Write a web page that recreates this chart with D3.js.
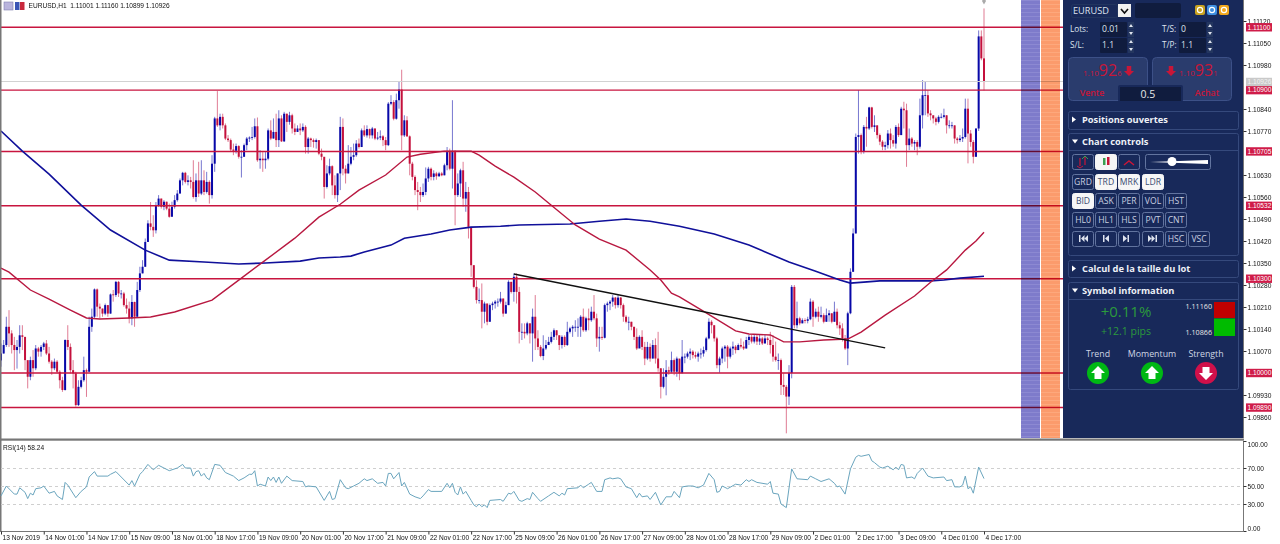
<!DOCTYPE html>
<html>
<head>
<meta charset="utf-8">
<title>EURUSD H1</title>
<script src="https://cdn.jsdelivr.net/npm/d3@7/dist/d3.min.js"></script>
<style>
html,body{margin:0;padding:0;background:#fff;overflow:hidden}
svg{display:block}
.chart text{font-family:"Liberation Sans",sans-serif;font-size:6.6px;fill:#111}
.panel text{font-family:"Open Sans",sans-serif}
</style>
</head>
<body>
<svg id="c" width="1280" height="544"></svg>
<script>
// Prices are in points: 10926 reads as 1.10926.
const closes = [
10062,10089,10147,10126,10089,10073,10083,10120,10115,10041,
9988,10041,10015,10078,10068,10083,10094,10062,10036,10015,
10036,10004,9977,9946,10105,10083,10009,9999,9898,9956,
9977,10009,10004,10147,10179,10266,10211,10205,10189,10216,
10189,10250,10248,10290,10253,10253,10216,10205,10174,10226,
10179,10264,10317,10338,10417,10476,10465,10454,10534,10555,
10529,10545,10523,10497,10529,10550,10571,10613,10637,10608,
10613,10608,10560,10613,10571,10613,10576,10608,10566,10666,
10810,10788,10815,10788,10746,10741,10711,10707,10722,10688,
10688,10725,10746,10749,10751,10785,10677,10682,10677,10682,
10772,10746,10767,10741,10810,10737,10825,10799,10820,10778,
10767,10778,10772,10783,10719,10746,10741,10735,10741,10698,
10688,10592,10635,10658,10597,10566,10635,10783,10650,10635,
10666,10688,10693,10730,10719,10772,10756,10776,10756,10778,
10746,10749,10753,10741,10725,10857,10862,10809,10868,10902,
10756,10804,10753,10666,10624,10582,10576,10566,10576,10619,
10650,10624,10635,10626,10635,10629,10661,10703,10650,10703,
10566,10603,10645,10555,10576,10465,10343,10274,10232,10232,
10195,10221,10163,10216,10221,10227,10227,10237,10189,10216,
10290,10258,10306,10258,10131,10131,10126,10158,10126,10179,
10110,10083,10054,10078,10089,10099,10115,10136,10120,10089,
10115,10089,10131,10142,10147,10147,10147,10179,10136,10174,
10168,10195,10174,10110,10115,10112,10216,10221,10227,10240,
10216,10240,10216,10179,10163,10163,10147,10115,10078,10115,
10083,10046,10083,10046,10089,10046,10015,9956,9988,10009,
10004,10041,10004,10046,9999,10052,10052,10062,10068,10057,
10052,10062,10062,10073,10110,10163,10152,10110,10025,10046,
10078,10084,10052,10078,10084,10073,10089,10084,10078,10105,
10115,10100,10115,10100,10110,10094,10110,10105,10089,10052,
10041,10041,9962,9956,9925,10000,10274,10152,10174,10158,
10168,10166,10171,10227,10179,10195,10179,10184,10163,10184,
10190,10163,10195,10152,10142,10110,10078,10190,10322,10444,
10751,10757,10704,10783,10778,10845,10783,10788,10757,10736,
10720,10725,10762,10741,10730,10783,10757,10841,10836,10725,
10746,10730,10735,10720,10820,10884,10884,10826,10820,10810,
10799,10815,10815,10820,10788,10788,10788,10746,10741,10746,
10751,10841,10762,10735,10688,10778,11071,11001,10926];

const highs = [
10094,10105,10179,10200,10136,10115,10105,10152,10152,10094,
10036,10052,10073,10089,10083,10089,10099,10105,10083,10041,
10046,10041,10009,9988,10107,10152,10094,10041,10004,9977,
9988,10052,10014,10179,10205,10269,10269,10221,10205,10221,
10216,10253,10264,10293,10293,10264,10258,10237,10227,10248,
10227,10290,10338,10359,10428,10486,10544,10502,10544,10566,
10555,10550,10545,10539,10545,10566,10582,10619,10640,10640,
10629,10624,10677,10635,10672,10677,10645,10640,10613,10693,
10815,10897,10825,10825,10794,10757,10746,10730,10730,10725,
10709,10730,10751,10753,10783,10810,10813,10709,10703,10703,
10778,10804,10810,10825,10836,10820,10831,10825,10831,10825,
10794,10788,10794,10794,10788,10751,10749,10746,10746,10741,
10714,10682,10661,10682,10661,10629,10635,10815,10810,10661,
10725,10719,10730,10741,10746,10778,10788,10788,10778,10783,
10778,10767,10772,10757,10751,10862,10884,10868,10889,10926,
10965,10820,10817,10756,10672,10629,10608,10592,10603,10654,
10656,10654,10645,10640,10640,10640,10666,10719,10714,10868,
10709,10635,10650,10672,10608,10592,10460,10343,10295,10269,
10285,10227,10221,10221,10227,10232,10237,10258,10237,10227,
10295,10290,10317,10317,10274,10158,10158,10163,10158,10205,
10248,10136,10089,10120,10105,10115,10131,10142,10136,10120,
10120,10120,10163,10147,10152,10168,10174,10184,10205,10179,
10205,10211,10248,10189,10147,10147,10221,10227,10232,10248,
10242,10248,10242,10221,10184,10179,10163,10147,10142,10120,
10136,10099,10099,10094,10105,10110,10131,10015,10015,10041,
10020,10068,10046,10052,10015,10105,10062,10068,10078,10073,
10068,10068,10078,10084,10115,10174,10168,10152,10115,10052,
10084,10089,10089,10084,10100,10089,10094,10110,10100,10115,
10121,10121,10123,10121,10121,10115,10121,10115,10131,10121,
10100,10062,10046,9999,9962,10025,10280,10280,10227,10179,
10174,10174,10179,10237,10232,10205,10211,10211,10190,10205,
10200,10190,10227,10205,10163,10158,10121,10195,10333,10460,
10762,10900,10762,10789,10815,10847,10847,10820,10788,10762,
10741,10736,10773,10778,10757,10789,10794,10847,10863,10857,
10778,10751,10741,10741,10873,10932,10926,10900,10836,10820,
10815,10820,10826,10841,10820,10804,10799,10788,10751,10757,
10778,10873,10873,10773,10741,10778,11090,11090,11160];

const lows = [
10020,10062,10083,10083,10062,10009,10014,10062,10073,10009,
9951,9977,9988,10009,10052,10052,10073,10057,10030,9994,
10009,9999,9951,9940,9944,10073,9999,9951,9893,9895,
9951,9972,9924,10004,10131,10174,10179,10174,10179,10184,
10179,10189,10227,10242,10242,10237,10211,10189,10158,10152,
10147,10179,10258,10317,10338,10417,10454,10433,10444,10529,
10523,10518,10518,10494,10505,10523,10545,10571,10597,10603,
10597,10587,10555,10545,10560,10566,10566,10571,10539,10555,
10640,10783,10772,10778,10741,10735,10703,10693,10698,10682,
10622,10688,10709,10735,10741,10746,10672,10650,10640,10650,
10677,10741,10746,10719,10719,10735,10735,10767,10790,10762,
10757,10767,10757,10767,10698,10698,10719,10717,10714,10693,
10677,10555,10587,10629,10566,10555,10544,10582,10629,10603,
10635,10661,10677,10688,10714,10719,10751,10749,10746,10746,
10741,10741,10741,10722,10709,10722,10852,10804,10806,10841,
10709,10751,10751,10629,10613,10566,10518,10544,10560,10566,
10608,10613,10613,10615,10624,10626,10629,10645,10645,10587,
10470,10560,10560,10529,10513,10428,10306,10269,10221,10221,
10142,10158,10152,10163,10200,10205,10211,10221,10179,10189,
10216,10253,10227,10221,10094,10105,10110,10120,10094,10036,
10073,10073,10050,10041,10073,10089,10094,10105,10105,10073,
10078,10083,10086,10126,10115,10131,10115,10115,10131,10131,
10136,10163,10168,10083,10068,10105,10110,10195,10200,10211,
10205,10208,10205,10163,10158,10136,10136,10105,10073,10083,
10073,10025,10041,10036,10046,10030,10004,9919,9951,9929,
9994,9999,9993,9988,9977,10004,10031,10046,10041,10046,
10046,10036,10046,10052,10068,10107,10126,10100,10015,10001,
10031,10036,10015,10046,10057,10062,10073,10078,10073,10078,
10089,10094,10094,10089,10089,10089,10094,10089,10062,10036,
10036,10010,9930,9930,9808,9898,9983,10142,10142,10152,
10158,10158,10158,10168,10147,10174,10163,10174,10158,10163,
10163,10158,10163,10142,10121,10100,10073,10025,10187,10322,
10444,10698,10696,10698,10720,10773,10778,10767,10746,10725,
10709,10709,10714,10714,10720,10714,10751,10757,10778,10656,
10709,10720,10709,10693,10714,10778,10820,10815,10804,10794,
10788,10794,10810,10810,10762,10778,10778,10730,10730,10735,
10735,10746,10667,10720,10667,10688,10770,10995,10899];

// Slow moving average, sampled at the listed bars.
const slowMaBars = [0,8,18,30,41,54,63,76,89,99,112,119,127,131,136,146,151,161,168,176,187,194,213,224,234,243,254,267,280,295,305,314,318,323,329,348,353,359,368];
const slowMaValues = [10770,10706,10633,10534,10455,10391,10359,10353,10347,10350,10356,10366,10369,10372,10385,10407,10429,10442,10455,10464,10467,10471,10474,10483,10490,10483,10467,10442,10407,10353,10324,10296,10286,10289,10293,10293,10296,10302,10308];

// Fast moving average, sampled at the listed bars.
const fastMaBars = [0,3,11,18,26,32,37,48,56,65,79,90,99,110,119,127,134,144,152,157,166,176,179,185,192,200,206,215,224,234,243,247,251,254,264,275,280,288,293,299,308,317,322,331,342,348,354,361,365,368];
const fastMaValues = [10334,10321,10264,10235,10200,10175,10172,10175,10178,10194,10232,10302,10359,10429,10496,10537,10582,10630,10687,10696,10706,10706,10693,10658,10623,10576,10534,10471,10426,10391,10328,10296,10254,10242,10191,10134,10124,10121,10099,10099,10105,10108,10130,10184,10245,10289,10328,10391,10420,10448];

// RSI(14) readings at the listed bars.
const rsiBars = [0,2,5,6,7,9,10,11,12,13,15,16,18,20,21,23,24,25,28,30,32,33,35,36,40,41,43,45,48,49,50,52,53,55,57,59,61,63,66,68,69,71,72,73,74,75,76,77,78,80,82,84,87,89,91,93,94,95,96,97,99,100,101,102,103,104,105,107,109,113,114,115,118,121,123,124,125,127,129,130,132,134,136,137,139,141,143,144,145,146,147,149,150,151,153,155,157,158,160,161,165,167,168,169,170,171,172,173,174,176,177,178,179,180,181,182,183,187,188,190,191,192,194,195,197,198,199,201,202,205,207,209,210,211,212,216,217,218,220,221,223,225,226,228,229,231,232,234,236,238,239,240,242,243,245,247,249,251,252,254,255,257,259,261,263,265,267,268,269,270,272,275,277,279,280,281,283,287,288,289,291,292,294,296,298,302,303,305,307,310,312,313,314,316,318,320,321,322,325,326,327,329,330,332,334,335,336,337,338,339,341,342,343,345,347,349,353,354,356,357,359,360,361,362,363,364,366,368];
const rsiValues = [39,50,41,41,48,43,36,42,40,47,48,50,42,44,39,35,54,51,37,44,49,60,66,61,61,63,66,60,51,56,50,63,66,74,68,73,70,67,70,74,70,70,61,66,67,61,64,59,57,74,73,65,61,56,59,63,63,67,50,52,50,60,56,60,54,60,53,61,56,55,49,50,49,34,44,35,36,57,48,47,50,53,58,56,58,53,54,50,64,64,58,65,50,54,41,38,36,39,46,44,44,53,48,53,43,40,49,41,44,34,29,27,30,27,29,26,34,35,33,42,41,44,34,33,36,35,43,36,33,39,43,39,42,40,47,48,51,48,52,54,44,44,57,59,58,59,58,49,47,37,42,38,39,35,43,29,38,38,44,37,49,50,50,48,51,64,57,43,44,50,47,52,51,57,55,57,54,52,55,42,41,30,26,69,58,57,61,58,55,58,53,49,50,41,69,82,84,83,85,78,76,71,70,72,68,71,68,74,73,59,60,58,64,70,61,59,60,56,57,49,49,51,61,47,49,42,71,58.24];

// Horizontal support and resistance levels.
const levels = [11100,10900,10705,10532,10300,10000,9890];
const bidLevel = 10926;
const priceTicks = [11120,11050,10980,10840,10770,10630,10560,10490,10420,10350,10280,10210,10140,10070,9930,9860];

// Hand-drawn trend line, as two bar/price anchors.
const trendBars = [192,331];
const trendValues = [10315,10080];

const rsiTicks = [100,70,50,30,0];
const rsiGuides = [70,50,30];

const timeTicks = [0,16,32,48,64,80,96,112,128,144,160,176,192,208,224,240,256,272,288,304,320,336,352,368];
const timeLabels = ["13 Nov 2019","14 Nov 01:00","14 Nov 17:00","15 Nov 09:00","18 Nov 01:00","18 Nov 17:00","19 Nov 09:00","20 Nov 01:00","20 Nov 17:00","21 Nov 09:00","22 Nov 01:00","22 Nov 17:00","25 Nov 09:00","26 Nov 01:00","26 Nov 17:00","27 Nov 09:00","28 Nov 01:00","28 Nov 17:00","29 Nov 09:00","2 Dec 01:00","2 Dec 17:00","3 Dec 09:00","4 Dec 01:00","4 Dec 17:00"];

const BLUE = "#0808a8", RED = "#c4103c", LEVEL = "#c8153f";
const fmt = v => (1 + v / 100000).toFixed(5);

const svg = d3.select("#c");
const chart = svg.append("g").attr("class", "chart");

const x = d3.scaleLinear().domain([0, 368]).range([1, 984]);
const y = d3.scaleLinear().domain([9860, 11120]).range([417, 21]);
const yRsi = d3.scaleLinear().domain([0, 100]).range([531, 441]);

const bars = closes.map((c, i) => ({
  i, c, h: highs[i], l: lows[i], o: i ? closes[i - 1] : 10040
}));

// Wicks first, bodies over them.
const colour = d => d.c >= d.o ? BLUE : RED;
chart.append("g").selectAll("line").data(bars).join("line")
  .attr("x1", d => x(d.i)).attr("x2", d => x(d.i))
  .attr("y1", d => y(d.h)).attr("y2", d => y(d.l))
  .attr("stroke", colour).attr("stroke-width", 1).attr("stroke-opacity", 0.55);
chart.append("g").selectAll("rect").data(bars).join("rect")
  .attr("x", d => x(d.i) - 1)
  .attr("width", 2)
  .attr("y", d => Math.min(y(d.o), y(d.c)))
  .attr("height", d => Math.max(0.8, Math.abs(y(d.o) - y(d.c))))
  .attr("fill", colour);

const zip = (a, b) => a.map((v, i) => [v, b[i]]);
const priceLine = d3.line().x(d => x(d[0])).y(d => y(d[1]));

// Current bid and fixed levels run under the side panel.
chart.append("line").attr("x1", 0).attr("x2", 1063)
  .attr("y1", y(bidLevel)).attr("y2", y(bidLevel))
  .attr("stroke", "#d2d2d2").attr("stroke-width", 1).attr("shape-rendering", "crispEdges");
chart.append("g").selectAll("line").data(levels).join("line")
  .attr("x1", 0).attr("x2", 1063)
  .attr("y1", d => y(d)).attr("y2", d => y(d))
  .attr("stroke", LEVEL).attr("stroke-width", 1.4);

chart.append("path").attr("d", priceLine(zip(slowMaBars, slowMaValues)))
  .attr("fill", "none").attr("stroke", "#10109a").attr("stroke-width", 1.6);
chart.append("path").attr("d", priceLine(zip(fastMaBars, fastMaValues)))
  .attr("fill", "none").attr("stroke", "#b81840").attr("stroke-width", 1.4);
chart.append("path").attr("d", priceLine(zip(trendBars, trendValues)))
  .attr("fill", "none").attr("stroke", "#111").attr("stroke-width", 1.4);

// Marker above the last bar.
chart.append("path")
  .attr("d", d3.symbol(d3.symbolDiamond, 14)())
  .attr("transform", `translate(${x(368)},1)`).attr("fill", "#aaa");

// Session bands, striped, multiplied over the levels.
const defs = svg.append("defs");
[["stripeA", "#7e7bcb", "#8c89d2"], ["stripeB", "#fb9b6c", "#fda87c"]].forEach(([id, a, b]) => {
  const p = defs.append("pattern").attr("id", id).attr("patternUnits", "userSpaceOnUse")
    .attr("width", 4).attr("height", 4);
  p.append("rect").attr("width", 4).attr("height", 4).attr("fill", a);
  p.append("rect").attr("width", 4).attr("height", 1).attr("fill", b);
});
chart.append("rect").attr("x", 1021).attr("y", 0).attr("width", 19).attr("height", 438)
  .attr("fill", "url(#stripeA)").style("mix-blend-mode", "multiply");
chart.append("rect").attr("x", 1041).attr("y", 0).attr("width", 19).attr("height", 438)
  .attr("fill", "url(#stripeB)").style("mix-blend-mode", "multiply");

// Window frame lines.
chart.append("rect").attr("x", 0).attr("y", 0).attr("width", 1.5).attr("height", 531).attr("fill", "#777");
chart.append("rect").attr("x", 0).attr("y", 438.5).attr("width", 1244).attr("height", 2.2).attr("fill", "#777");

// Price axis.
const priceAxis = d3.axisRight(y).tickValues(priceTicks).tickFormat(fmt).tickSize(3).tickPadding(1);
const gp = chart.append("g").attr("transform", "translate(1243.5,0)").call(priceAxis);
gp.select(".domain").attr("stroke", "#777").attr("d", "M0,0V438");
gp.selectAll(".tick line").attr("stroke", "#333");

// Price badges for the levels and the bid.
const badge = chart.append("g").selectAll("g").data(levels.concat([bidLevel])).join("g")
  .attr("transform", d => `translate(1246,${y(d)})`);
badge.append("rect").attr("x", 0).attr("y", -4.2).attr("width", 26).attr("height", 8.4)
  .attr("fill", d => d === bidLevel ? "#c9c9c9" : "#cf1c49");
badge.append("text").attr("x", 1.5).attr("dy", "0.34em").text(fmt)
  .style("fill", d => d === bidLevel ? "#f3f3f3" : "#fff");

// Header text.
chart.append("rect").attr("x", 4).attr("y", 2).attr("width", 9).attr("height", 8).attr("fill", "#b9b4dd").attr("stroke", "#7f7fb0").attr("stroke-width", 0.6);
chart.append("rect").attr("x", 15).attr("y", 2).attr("width", 4.5).attr("height", 8).attr("fill", "#3a55b5");
chart.append("rect").attr("x", 20).attr("y", 2).attr("width", 4.5).attr("height", 8).attr("fill", "#c8283c");
chart.append("text").attr("x", 28.5).attr("y", 8.3)
  .text("EURUSD,H1  1.11001 1.11160 1.10899 1.10926").style("white-space", "pre");

// RSI pane.
chart.append("g").selectAll("line").data(rsiGuides).join("line")
  .attr("x1", 1).attr("x2", 1243)
  .attr("y1", d => yRsi(d)).attr("y2", d => yRsi(d))
  .attr("stroke", "#cfcfcf").attr("stroke-dasharray", "3,3").attr("shape-rendering", "crispEdges");
chart.append("path")
  .attr("d", d3.line().x(d => x(d[0])).y(d => yRsi(d[1]))(zip(rsiBars, rsiValues)))
  .attr("fill", "none").attr("stroke", "#6aa5be").attr("stroke-width", 1);
chart.append("text").attr("x", 3).attr("y", 449.5).text("RSI(14) 58.24");

const rsiAxis = d3.axisRight(yRsi).tickValues(rsiTicks).tickFormat(d => d.toFixed(2)).tickSize(3).tickPadding(1);
const gr = chart.append("g").attr("transform", "translate(1243.5,0)").call(rsiAxis);
gr.select(".domain").attr("stroke", "#777").attr("d", "M0,441V531");
gr.selectAll(".tick line").attr("stroke", "#333");
gr.selectAll(".tick text").attr("dy", d => d === 100 ? "5.3px" : d === 0 ? "-0.7px" : "2.3px");

// Time axis.
const timeAxis = d3.axisBottom(x).tickValues(timeTicks).tickFormat((d, i) => timeLabels[i]).tickSize(3).tickPadding(0);
const gt = chart.append("g").attr("transform", "translate(0,531.5)").call(timeAxis);
gt.select(".domain").attr("stroke", "#777").attr("d", "M0,0H1244");
gt.selectAll(".tick line").attr("stroke", "#333");
gt.selectAll(".tick text").attr("text-anchor", "start").attr("dx", "1px").attr("dy", "5.6px");

// Side panel.
const panel = svg.append("g").attr("class", "panel");
const NAVY = "#18295a", EDGE = "#35497c", DARK = "#101c3e", INK = "#dfe4ef", CRIM = "#c81638", GREEN = "#2b9a3c";
panel.append("rect").attr("x", 1063).attr("y", 0).attr("width", 180).attr("height", 438).attr("fill", NAVY);

const box = (x0, y0, w, h, o = {}) => panel.append("rect")
  .attr("x", x0 + .5).attr("y", y0 + .5).attr("width", w).attr("height", h).attr("rx", o.rx ?? 2)
  .attr("fill", o.fill ?? "none").attr("stroke", o.stroke ?? EDGE);
const label = (x0, y0, s, o = {}) => panel.append("text").attr("x", x0).attr("y", y0)
  .attr("text-anchor", o.anchor ?? "start").attr("dy", "0.35em")
  .attr("font-size", o.size ?? 8.5).attr("font-weight", o.weight ?? 400)
  .attr("fill", o.fill ?? INK).text(s);
const glyph = (d, fill) => panel.append("path").attr("d", d).attr("fill", fill);

// Symbol picker.
box(1071, 4, 46, 13, { stroke: "#22355f" });
label(1073, 11, "EURUSD", { size: 9.2 });
panel.append("rect").attr("x", 1118).attr("y", 4).attr("width", 13).attr("height", 13).attr("fill", "#f2f2f2");
panel.append("path").attr("d", "M1121,9l3.5,4l3.5,-4").attr("fill", "none").attr("stroke", "#111").attr("stroke-width", 1.6);
panel.append("rect").attr("x", 1135).attr("y", 3).attr("width", 46).attr("height", 15).attr("rx", 2).attr("fill", DARK);
[[1195, "#c9a21f"], [1207, "#3f8fe0"], [1219, "#f2a81d"]].forEach(([px, col]) => {
  panel.append("rect").attr("x", px).attr("y", 5).attr("width", 10).attr("height", 10).attr("rx", 2).attr("fill", col);
  panel.append("circle").attr("cx", px + 5).attr("cy", 10).attr("r", 2.6).attr("fill", "none").attr("stroke", "#fff").attr("stroke-width", 1.2);
});

// Order inputs.
const orderFields = [
  [1070, 29, "Lots:", 1100, "0.01"], [1162, 29, "T/S:", 1179, "0"],
  [1070, 45, "S/L:", 1100, "1.1"], [1162, 45, "T/P:", 1179, "1.1"]
];
orderFields.forEach(([lx, ly, name, ix, val]) => {
  label(lx, ly, name, { size: 8.2 });
  panel.append("rect").attr("x", ix).attr("y", ly - 7).attr("width", 27).attr("height", 15).attr("rx", 1).attr("fill", DARK);
  label(ix + 2, ly, val, { size: 8.6 });
  panel.append("rect").attr("x", ix + 28).attr("y", ly - 7).attr("width", 6).attr("height", 7).attr("fill", "#24365f");
  panel.append("rect").attr("x", ix + 28).attr("y", ly + 1).attr("width", 6).attr("height", 7).attr("fill", "#24365f");
  glyph(`M${ix + 29},${ly - 2}l2,-3l2,3z`, "#dfe4ef");
  glyph(`M${ix + 29},${ly + 3}l2,3l2,-3z`, "#dfe4ef");
});

// Sell and buy tiles.
box(1068, 57, 79, 43, { rx: 4, fill: "#2a3c6d", stroke: "#3c5087" });
box(1152, 57, 79, 43, { rx: 4, fill: "#2a3c6d", stroke: "#3c5087" });
panel.append("rect").attr("x", 1118).attr("y", 85).attr("width", 65).attr("height", 17).attr("rx", 2).attr("fill", NAVY);
panel.append("rect").attr("x", 1120).attr("y", 87).attr("width", 61).attr("height", 14).attr("fill", DARK);
label(1148, 94.5, "0.5", { anchor: "middle", size: 10.5, fill: "#e8e8e8" });
const quote = (x0, a, b, c) => {
  const t = panel.append("text").attr("x", x0).attr("y", 76).attr("fill", CRIM);
  t.append("tspan").attr("font-size", 8).text(a);
  t.append("tspan").attr("font-size", 16).text(b);
  t.append("tspan").attr("font-size", 7.5).text(c);
};
quote(1083, "1.10", "92", "6");
quote(1179, "1.10", "93", "1");
const downArrow = (cx, cy, s, fill) => glyph(
  `M${cx - s * .45},${cy - s}h${s * .9}v${s}h${s * .55}l${-s},${s}l${-s},${-s}h${s * .55}z`, fill);
downArrow(1129, 71, 5, CRIM);
downArrow(1171, 71, 5, CRIM);
label(1092, 93, "Vente", { anchor: "middle", size: 8.8, weight: 600, fill: CRIM });
label(1207, 93, "Achat", { anchor: "middle", size: 8.8, weight: 600, fill: CRIM });

// Collapsible sections.
const sections = [
  [111, 18, "Positions ouvertes", false], [133, 122, "Chart controls", true],
  [260, 17, "Calcul de la taille du lot", false], [282, 107, "Symbol information", true]
];
sections.forEach(([top, h, name, open]) => {
  box(1068, top, 170, h);
  const my = top + 8.5;
  glyph(open ? `M1072,${my - 2}h6l-3,4z` : `M1072,${my - 3}v6l4,-3z`, "#fff");
  label(1082, my, name, { size: 9.3, weight: 700, fill: "#eef1f7" });
  if (open) panel.append("line").attr("x1", 1068).attr("x2", 1238)
    .attr("y1", top + 17.5).attr("y2", top + 17.5).attr("stroke", EDGE);
});

// Control buttons; the lit ones are white.
const colX = [1072, 1095, 1118, 1142, 1165, 1188];
const button = (c, top, txt, lit) => {
  panel.append("rect").attr("x", colX[c] + .5).attr("y", top + .5).attr("width", 21).attr("height", 15).attr("rx", 2)
    .attr("fill", lit ? "#f6f6f6" : "none").attr("stroke", lit ? "#f6f6f6" : "#62749f");
  if (txt) label(colX[c] + 11, top + 8, txt, { anchor: "middle", size: 8.6, fill: lit ? "#3a4a70" : "#c9d0e0" });
};
[0, 1, 2].forEach(c => button(c, 154, "", c === 1));
panel.append("path").attr("d", "M1080,158v8M1085,157v8").attr("stroke", CRIM).attr("stroke-width", 1.2);
panel.append("path").attr("d", "M1083,166l-3,2l-3,-2").attr("stroke", CRIM).attr("fill", "none");
panel.append("path").attr("d", "M1082,159l3,-3l3,3").attr("stroke", "#3aa050").attr("fill", "none");
panel.append("rect").attr("x", 1103).attr("y", 158).attr("width", 2.5).attr("height", 7).attr("fill", "#3aa050");
panel.append("rect").attr("x", 1107).attr("y", 157).attr("width", 2.5).attr("height", 8).attr("fill", CRIM);
panel.append("path").attr("d", "M1124,165l5,-4l5,4").attr("fill", "none").attr("stroke", CRIM).attr("stroke-width", 1.5);
box(1145, 154, 65, 15, { stroke: "#62749f" });
panel.append("path").attr("d", "M1150,162L1208,160V164Z").attr("fill", "#fff");
panel.append("circle").attr("cx", 1172).attr("cy", 161.5).attr("r", 4.5).attr("fill", "#fff");

const controlRows = [
  [174, ["GRD", "TRD", "MRK", "LDR"], ["TRD", "MRK", "LDR"]],
  [193, ["BID", "ASK", "PER", "VOL", "HST"], ["BID"]],
  [212, ["HL0", "HL1", "HLS", "PVT", "CNT"], []],
  [231, ["", "", "", "", "HSC", "VSC"], []]
];
controlRows.forEach(([top, names, lit]) => names.forEach((n, c) => button(c, top, n, lit.includes(n))));
const tape = "#dfe4ef";
glyph("M1079,235v7h1.5v-7zM1081,238.5l3.5,-3.5v7zM1084.5,238.5l3.5,-3.5v7z", tape);
glyph("M1103,235v7h1.5v-7zM1105,238.5l4,-3.5v7z", tape);
glyph("M1129,235v7h-1.5v-7zM1127,238.5l-4,-3.5v7z", tape);
glyph("M1157,235v7h-1.5v-7zM1155,238.5l-3.5,-3.5v7zM1151.5,238.5l-3.5,-3.5v7z", tape);

// Daily range and change.
label(1126, 312, "+0.11%", { anchor: "middle", size: 15, fill: GREEN });
label(1126, 331, "+12.1 pips", { anchor: "middle", size: 10.5, fill: GREEN });
label(1212, 306, "1.11160", { anchor: "end", size: 7.2, fill: "#e8e8e8" });
label(1212, 332, "1.10866", { anchor: "end", size: 7.2, fill: "#e8e8e8" });
panel.append("rect").attr("x", 1214).attr("y", 302).attr("width", 21).attr("height", 16).attr("fill", "#c00000");
panel.append("rect").attr("x", 1214).attr("y", 318.5).attr("width", 21).attr("height", 17.5).attr("fill", "#00bb00");

// Signal badges.
const signals = [["Trend", 1098, true], ["Momentum", 1152, true], ["Strength", 1206, false]];
signals.forEach(([name, cx, up]) => {
  label(cx, 354, name, { anchor: "middle", size: 8.8, fill: "#cfd6e4" });
  panel.append("circle").attr("cx", cx).attr("cy", 373).attr("r", 11).attr("fill", up ? "#00b814" : "#d0104a");
  const p = up
    ? `M${cx},${366}l7,7h-3.5v6h-7v-6h-3.5z`
    : `M${cx},${380}l7,-7h-3.5v-6h-7v6h-3.5z`;
  glyph(p, "#fff");
});
</script>
</body>
</html>
